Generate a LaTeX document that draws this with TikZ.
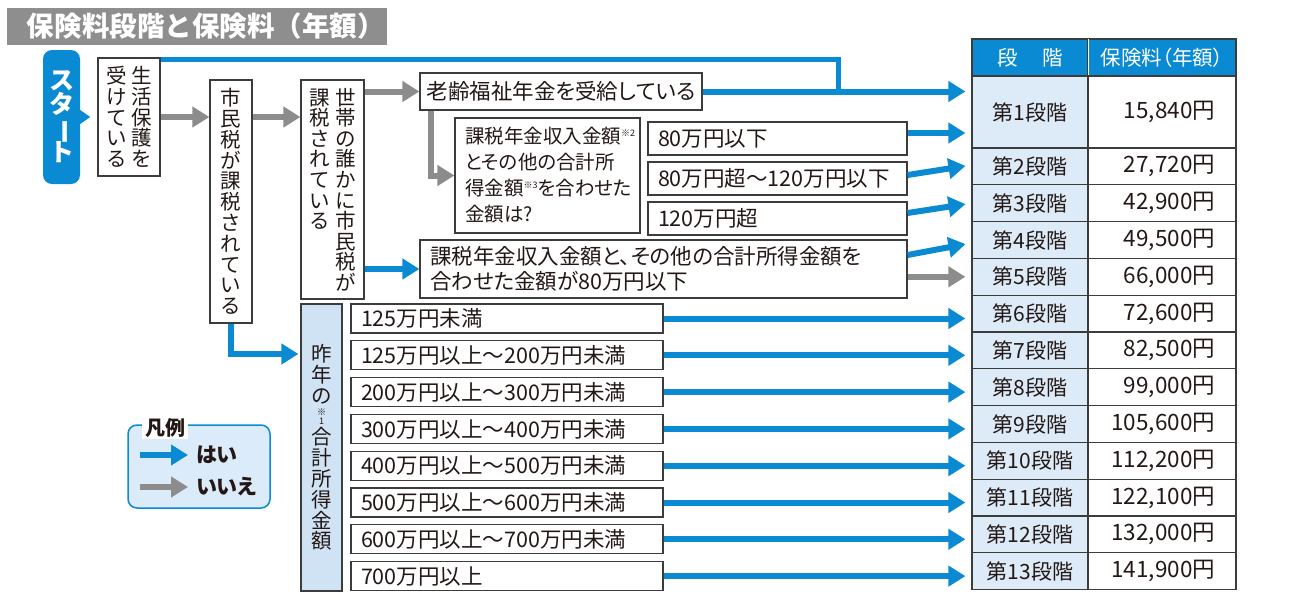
\documentclass[tikz,border=0pt]{standalone}
\usepackage{fontspec}
\setmainfont{Noto Sans CJK JP}
\newfontfamily\propjp{Noto Sans CJK JP}[RawFeature=+palt]
\usepackage{graphicx}
\usetikzlibrary{arrows.meta}
\definecolor{jblue}{HTML}{0A8AD2}
\definecolor{jgray}{HTML}{8C8C8C}
\definecolor{ink}{HTML}{231815}
\definecolor{boxline}{HTML}{3C3C3C}
\definecolor{stagefill}{HTML}{DDEBF8}
\definecolor{incfill}{HTML}{D0E3F4}
\definecolor{legfill}{HTML}{DCEBF9}
\definecolor{titlegray}{HTML}{8E8E8E}
\newcommand{\fsz}[1]{\fontsize{#1}{#1}\selectfont}
\makeatletter
\newcommand{\tate}[2][20.6pt]{\vtop{\baselineskip=#1\lineskiplimit=-\maxdimen\@tfor\tch:=#2\do{\hbox to 1em{\hss\tch\hss}}}}
\makeatother
\newcommand{\chouon}{\rotatebox[origin=c]{-90}{ー}}
\newcommand{\kome}[1]{\vbox{\fsz{9}\hbox to 1em{\hss ※\hss}\hbox to 1em{\hss #1\hss}}}
\newcommand{\supkome}[1]{\raisebox{7pt}{\fsz{9}※#1}}
\tikzset{
  flowbox/.style={draw=boxline, line width=1.2pt, fill=white, text=ink, inner sep=0pt, font=\propjp\fsz{21.5}},
  lbox/.style={flowbox, align=left, text width=#1, inner xsep=10pt},
  tatebox/.style={flowbox, font=\fsz{20.5}},
  titlebar/.style={fill=titlegray, text=white, font=\fsz{27.5}\bfseries, text width=340pt, align=left, inner xsep=20pt, minimum height=37pt, inner ysep=0pt},
  startbox/.style={fill=jblue, rounded corners=9pt, text=white, font=\fsz{25}\bfseries, minimum width=37pt, minimum height=134pt, inner sep=0pt},
  yesarrow/.style={draw=jblue, line width=6pt, -{Triangle[length=17pt,width=20pt]}},
  noarrow/.style={draw=jgray, line width=6pt, -{Triangle[length=17pt,width=20pt]}},
  yesline/.style={draw=jblue, line width=5pt},
  headcell/.style={draw=boxline, line width=1.2pt, fill=jblue, text=white, font=\propjp\fsz{20.5}, minimum height=37pt, inner sep=0pt},
  stagecell/.style={draw=boxline, line width=1.2pt, fill=stagefill, text=ink, font=\fsz{21}, minimum width=116pt, minimum height=36.8pt, inner sep=0pt},
  feecell/.style={draw=boxline, line width=1.2pt, fill=white, text=ink, font=\fsz{22.5}, text width=106pt, align=right, inner xsep=21pt, inner ysep=0pt, minimum height=36.8pt},
  legendbox/.style={draw=jblue, line width=1.5pt, fill=legfill, rounded corners=9pt, minimum width=142pt, minimum height=83pt},
  legtitle/.style={fill=white, text=ink, font=\fsz{20}\bfseries, inner xsep=3pt, inner ysep=1pt},
  legtxt/.style={anchor=west, text=ink, font=\propjp\fsz{21}\bfseries, inner sep=0pt},
}

\begin{document}
\begin{tikzpicture}[x=1pt, y=-1pt]
  \useasboundingbox (0,0) rectangle (1303,597);

  \node[titlebar] (title) at (197,26.5) {保険料段階と保険料（年額）};

  % flow, left part
  \node[startbox] (start) at (61.5,117) {\tate[24pt]{スタ\chouon ト}};
  \fill[jblue] (start.east) ++(0,-7) -- ++(10,7) -- ++(-10,7) -- cycle;
  \node[tatebox, minimum width=62pt, minimum height=118pt] (seikatsu) at (129,117) {\tate{受けている}\hspace{5pt}\tate{生活保護を}};
  \node[tatebox, minimum width=42pt, minimum height=243pt] (shimin) at (231,201.5) {\tate[20.8pt]{市民税が課税されている}};
  \node[tatebox, minimum width=63pt, minimum height=219pt] (setai) at (332.5,189.5) {\tate{課税されている}\hspace{6pt}\tate{世帯の誰かに市民税が}};
  \node[tatebox, fill=incfill, minimum width=41pt, minimum height=287pt] (sakunen) at (321.5,447.5) {\tate[20.8pt]{昨年の{\kome{1}}合計所得金額}};

  % pension branch
  \node[flowbox, minimum width=282pt, minimum height=37pt] (rourei) at (561,91.5) {老齢福祉年金を受給している};
  \node[lbox=165pt, minimum height=115pt, font=\propjp\fontsize{19.5}{26}\selectfont] (kazei) at (547.5,175.5) {課税年金収入金額\supkome{2}\\とその他の合計所\\得金額\supkome{3}を合わせた\\金額は?};
  \node[lbox=239pt, minimum height=33pt] (a80) at (777.5,138.5) {80万円以下};
  \node[lbox=239pt, minimum height=33pt] (a120) at (777.5,178.5) {80万円超〜120万円以下};
  \node[lbox=239pt, minimum height=33pt] (a120over) at (777.5,218.5) {120万円超};
  \node[lbox=467pt, minimum height=58pt, font=\propjp\fontsize{21.5}{25}\selectfont] (kazei80) at (663.5,269) {課税年金収入金額と、その他の合計所得金額を\\合わせた金額が80万円以下};

  % income ranges
  \foreach \txt [count=\k] in {125万円未満,125万円以上〜200万円未満,200万円以上〜300万円未満,300万円以上〜400万円未満,400万円以上〜500万円未満,500万円以上〜600万円未満,600万円以上〜700万円未満,700万円以上}
    \node[lbox=292pt, minimum height=29pt] (inc\k) at (507,{318.5+(\k-1)*36.8}) {\txt};

  % table
  \node[headcell, minimum width=116pt] (hd1) at (1030,57.5) {段\hspace{1.2em}階};
  \node[headcell, minimum width=148pt] (hd2) at (1162,57.5) {保険料（年額）};
  \draw[white, line width=1.2pt] ([yshift=-0.6pt]hd1.north east) -- ([yshift=0.6pt]hd1.south east);
  \node[stagecell, minimum height=72pt] (st1) at (1030,112) {第1段階};
  \node[feecell, minimum height=72pt] (fe1) at (1162,112) {15,840円};
  \foreach \n/\fee [evaluate=\n as \yc using 148+(\n-2)*36.8+18.4] in {2/{27,720円},3/{42,900円},4/{49,500円},5/{66,000円},6/{72,600円},7/{82,500円},8/{99,000円},9/{105,600円},10/{112,200円},11/{122,100円},12/{132,000円},13/{141,900円}}{
    \node[stagecell] (st\n) at (1030,\yc) {第{\n}段階};
    \node[feecell] (fe\n) at (1162,\yc) {\fee};
  }

  % connectors
  \draw[noarrow] (seikatsu.east) -- (seikatsu.east -| shimin.west);
  \draw[noarrow] (shimin.east |- seikatsu.east) -- (seikatsu.east -| setai.west);
  \draw[noarrow] (setai.east |- rourei.west) -- (rourei.west);
  \draw[yesarrow] (setai.east |- kazei80.west) -- (kazei80.west);
  \draw[yesarrow, shorten >=2pt] (shimin.south) |- ([yshift=93.5pt]sakunen.west);
  \draw[noarrow] ([xshift=12pt]rourei.south west) |- (kazei.west);
  \coordinate (merge) at (rourei.east -| 838,0);
  \draw[yesline] ([yshift=-2pt]seikatsu.north east) -| (merge);
  \draw[yesarrow, shorten >=6pt] (rourei.east) -- (rourei.east -| st1.west);
  \draw[yesarrow, shorten >=6pt] ([yshift=5.5pt]a80.east) -- ([yshift=5.5pt]a80.east -| st1.west);
  \draw[yesarrow, shorten >=6pt] ([yshift=3.5pt]a120.east) -- ([yshift=1.4pt]st2.west);
  \draw[yesarrow, shorten >=6pt] ([yshift=5.5pt]a120over.east) -- (st3.west);
  \draw[yesarrow, shorten >=6pt] ([yshift=14pt]kazei80.east) -- ([yshift=-3pt]st4.west);
  \draw[noarrow, shorten >=6pt] (kazei80.east |- st5.west) -- (st5.west);
  \foreach \k [evaluate=\k as \sn using int(\k+5)] in {1,...,8}
    \draw[yesarrow, shorten >=6pt] (inc\k.east) -- (inc\k.east -| st\sn.west);

  % legend
  \node[legendbox] (legend) at (199,466.5) {};
  \node[legtitle] (legtitle) at (165,428) {凡例};
  \coordinate (lgyes) at (140,455);
  \node[legtxt] (yeslab) at (196,455) {はい};
  \draw[yesarrow, shorten >=8pt] (lgyes) -- (yeslab.west);
  \coordinate (lgno) at (140,487);
  \node[legtxt] (nolab) at (196,487) {いいえ};
  \draw[noarrow, shorten >=8pt] (lgno) -- (nolab.west);
\end{tikzpicture}
\end{document}
